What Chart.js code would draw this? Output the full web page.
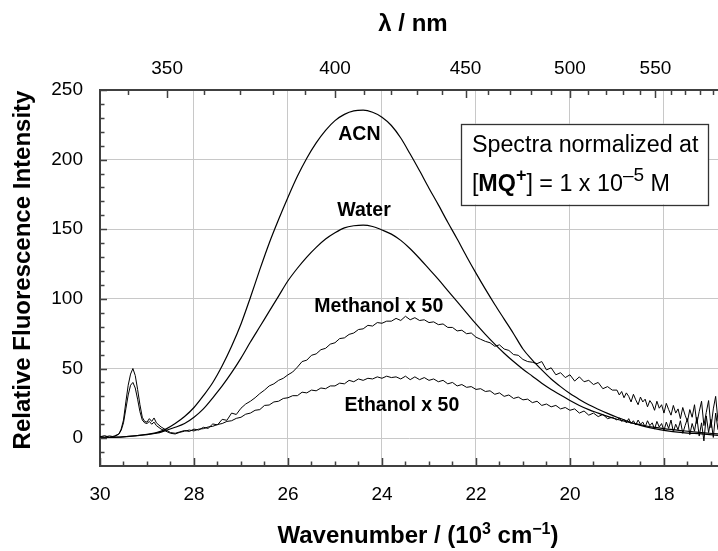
<!DOCTYPE html>
<html><head><meta charset="utf-8">
<script src="https://cdn.jsdelivr.net/npm/chart.js@4.4.1/dist/chart.umd.min.js"></script>
<style>html,body{margin:0;padding:0;background:#fff}canvas{display:block}</style>
</head><body>
<canvas id="c" width="718" height="551"></canvas>
<script>
// ---- data (wavenumber in 10^3 cm^-1) ----
const wnSmooth = [30.0,29.5,29.0,28.8,28.6,28.4,28.2,28.0,27.8,27.6,
  27.4,27.2,27.0,26.8,26.6,26.4,26.2,26.0,25.8,25.6,
  25.4,25.2,25.0,24.8,24.6,24.4,24.2,24.0,23.8,23.6,
  23.4,23.2,23.0,22.8,22.6,22.4,22.2,22.0,21.8,21.6,
  21.4,21.2,21.0,20.8,20.6,20.4,20.2,20.0,19.8,19.6,
  19.4,19.2,19.0,18.8,18.6,18.4,18.2,18.0,17.6,17.2,
  16.85];
const acn = [0.3,1.0,2.8,4.0,6.5,10.5,15.5,22,30.5,40,
  52,66,82,101,121,140,157,173,188,201,
  212,221,228,232.5,235,235.5,234,230.5,224.5,215.5,
  204,192,179.5,167.5,155,143,130.5,118.5,107,96,
  85.5,75,64,56,49,42.5,37,32,27.8,24,
  20.8,17.8,15,12.5,10.2,8.3,6.8,5.6,4,3,
  2];
const water = [0.3,0.9,2.5,3.5,5.5,7.8,10.5,15,21,29,
  37.5,47,57.5,69,80,91,102,113,122,130,
  137,143,147.5,151,152.5,153,152,149.5,146.5,142,
  136,129,121.5,114,106,98,90,82,74.5,67.5,
  61,55,49.5,44.5,39.5,35,31,27,23.5,20.5,
  18,15.6,13.6,11.8,10.2,8.9,7.8,6.8,5.3,4,
  3];
const wnNoisy = [30.0,29.9,29.8,29.7,29.6,29.55,29.5,29.45,29.4,29.35,29.3,29.25,29.2,29.15,29.1,29.05,29.0,28.95,28.9,28.85,28.8,28.7,28.6,28.5,28.4,28.3,
  28.2,28.1,28.0,27.9,27.8,27.7,27.6,27.5,27.4,27.3,
  27.2,27.1,27.0,26.9,26.8,26.7,26.6,26.5,26.4,26.3,
  26.2,26.1,26.0,25.9,25.8,25.7,25.6,25.5,25.4,25.3,
  25.2,25.1,25.0,24.9,24.8,24.7,24.6,24.5,24.4,24.3,
  24.2,24.1,24.0,23.9,23.8,23.7,23.6,23.5,23.4,23.3,
  23.2,23.1,23.0,22.9,22.8,22.7,22.6,22.5,22.4,22.3,
  22.2,22.1,22.0,21.9,21.8,21.7,21.6,21.5,21.4,21.3,
  21.2,21.1,21.0,20.9,20.8,20.7,20.6,20.5,20.4,20.3,
  20.2,20.1,20.0,19.9,19.8,19.7,19.6,19.5,19.4,19.3,
  19.2,19.1,
  19.0,18.95,18.9,18.85,18.8,18.75,18.7,18.65,18.6,18.55,
  18.5,18.45,18.4,18.35,18.3,18.25,18.2,18.15,18.1,18.05,
  18.0,17.95,17.9,17.85,17.8,17.75,17.7,17.65,17.6,17.55,
  17.5,17.45,17.4,17.35,17.3,17.25,17.2,17.15,17.1,17.05,
  17.0,16.95,16.9,16.85];
const methanol = [1.0,1.8,0.6,1.5,3.0,6.5,13,26,38,46,50,45,35,24,15,12,11.5,14,12,14.5,11,8,6,4,3.5,4.5,
  5.5,4.8,6.5,5.8,7.8,7.0,10.2,9.5,13.5,12.8,
  18.0,17.0,21.5,24.5,26.5,29.0,32.0,34.5,37.5,39.0,
  41.5,43.0,45.5,47.5,51.0,55.0,56.0,59.5,60.5,63.5,
  64.5,67.5,68.5,71.5,72.0,74.5,75.5,78.0,78.5,81.0,
  80.5,83.0,82.5,84.0,84.0,86.0,84.5,87.5,85.0,86.5,
  84.5,85.0,83.0,83.5,81.5,82.0,79.5,79.5,77.0,77.5,
  75.0,75.5,72.5,71.0,69.5,68.5,66.0,67.0,64.0,63.0,
  60.0,59.5,56.5,55.0,54.5,53.5,55.0,49.0,50.5,45.5,
  47.0,43.5,45.5,41.0,44.0,40.5,41.5,38.5,40.0,35.5,
  37.0,34.5,
  34.5,31.0,33.5,29.0,32.5,30.0,26.0,31.5,27.5,24.0,
  29.5,26.0,28.0,22.5,27.0,24.5,20.0,26.5,21.5,24.0,
  18.0,25.0,20.5,16.5,23.5,18.0,21.0,14.0,22.0,16.5,
  12.0,20.5,15.0,24.0,10.5,19.0,26.5,9.0,18.5,27.0,
  7.5,21.0,30.0,12.0];
const ethanol = [1.2,0.8,1.6,1.0,2.8,5.5,11,21,31,38,40,36,28,19,13,11,10.5,12,10,11.5,9,6.5,5,3.5,3,4.2,
  5.0,5.8,5.2,6.5,6.8,8.0,8.5,9.8,10.5,12.0,
  12.5,14.2,15.0,17.2,18.0,20.0,20.5,23.5,23.8,26.0,
  26.5,28.5,29.0,30.5,30.5,33.0,32.5,34.5,34.0,36.0,
  35.5,37.5,37.5,39.5,39.0,41.5,40.5,42.5,41.5,43.0,
  42.5,44.0,43.0,44.5,43.5,44.0,42.5,44.5,42.0,44.0,
  42.0,43.5,41.5,42.5,40.5,41.5,39.0,40.0,37.5,38.5,
  36.5,37.0,35.0,35.5,33.5,34.0,31.5,32.5,30.0,31.0,
  28.5,29.5,27.5,28.0,25.5,26.5,23.5,24.5,22.5,23.5,
  21.0,22.0,20.0,21.0,18.0,19.5,16.5,18.0,15.5,17.0,
  14.0,15.0,
  13.0,14.5,12.0,13.5,11.0,14.0,10.5,12.5,9.5,13.0,
  10.0,11.5,8.0,12.5,9.0,11.0,6.5,12.0,8.0,10.5,
  5.5,11.5,7.0,13.0,4.5,10.0,6.0,12.5,3.5,9.0,
  14.0,2.5,10.5,5.0,15.0,1.5,11.0,-2.0,16.0,4.0,
  13.5,0.5,18.0,6.0];
const wnTicks = [30,28,26,24,22,20,18];
const yTicks = [0,50,100,150,200,250];
const lambdaTicks = [350,400,450,500,550];
const seriesNames = ['ACN','Water','Methanol x 50','Ethanol x 50'];

// ---- layout / style ----
const FONT = '"Liberation Sans", Arial, Helvetica, sans-serif';
const AXIS = '#404040';
const GRID = '#c8c8c8';
const labelAnchors = [ {w:24.93, v:213.8}, {w:24.95, v:159.2}, {w:25.44, v:90.5}, {w:24.80, v:19.4} ];

function richWidth(ctx, parts){ let w=0; for(const p of parts){ ctx.font=p.font; w+=ctx.measureText(p.t).width; } return w; }
function drawRich(ctx, x, y, parts){
  for(const p of parts){ ctx.font=p.font; ctx.fillText(p.t, x, y-(p.rise||0)); x+=ctx.measureText(p.t).width; }
}

const decor = {
  id:'decor',
  afterDraw(chart){
    const {ctx, chartArea:a, scales} = chart;
    const x = scales.x, y = scales.y;
    ctx.save();
    // inner ticks
    ctx.strokeStyle = AXIS; ctx.lineWidth = 1.5;
    ctx.beginPath();
    for(let k=34;k<=60;k++){ const v=k/2; const px=Math.round(x.getPixelForValue(v))+0.5; const L=(k%4===0)?8:4.5; ctx.moveTo(px,a.bottom); ctx.lineTo(px,a.bottom-L); }
    for(let v=-10; v<=250; v+=10){ const py=Math.round(y.getPixelForValue(v))+0.5; const L=(v%50===0)?7:4.5; ctx.moveTo(a.left,py); ctx.lineTo(a.left+L,py); }
    for(let l=340; l<=590; l+=10){ const px=Math.round(x.getPixelForValue(10000/l))+0.5; const L=(l%50===0)?8:5; ctx.moveTo(px,a.top); ctx.lineTo(px,a.top+L); }
    ctx.stroke();

    ctx.fillStyle = '#000';
    ctx.textBaseline = 'alphabetic';
    ctx.textAlign = 'left';
    // series labels
    ctx.font = 'bold 19.5px '+FONT;
    seriesNames.forEach((s,i)=>{
      ctx.fillText(s, x.getPixelForValue(labelAnchors[i].w), y.getPixelForValue(labelAnchors[i].v));
    });
    // note box
    const bl = x.getPixelForValue(22.31), br = x.getPixelForValue(17.05);
    const bt = y.getPixelForValue(225.8), bb = y.getPixelForValue(167.8);
    ctx.fillStyle='#fff'; ctx.fillRect(bl,bt,br-bl,bb-bt);
    ctx.strokeStyle='#333'; ctx.lineWidth=1.3;
    ctx.strokeRect(Math.round(bl)+0.5, Math.round(bt)+0.5, Math.round(br-bl), Math.round(bb-bt));
    ctx.fillStyle='#000';
    const tx = bl+10.5;
    ctx.font = '23.3px '+FONT;
    ctx.fillText('Spectra normalized at', tx, bt+28.5);
    const R='23.3px '+FONT, B='bold 23.3px '+FONT;
    drawRich(ctx, tx, bt+67, [
      {t:'[',font:R},{t:'MQ',font:B},{t:'+',font:'bold 18px '+FONT,rise:10},{t:']',font:R},
      {t:' = 1 x 10',font:R},{t:'\u20135',font:'19px '+FONT,rise:10},{t:' M',font:R}
    ]);
    // axis titles
    ctx.font = 'bold 24px '+FONT;
    ctx.textAlign='center';
    ctx.fillText('\u03bb / nm', 413, 31);
    ctx.textAlign='left';
    const bParts = [
      {t:'Wavenumber / (10',font:'bold 24px '+FONT},{t:'3',font:'bold 16px '+FONT,rise:9},
      {t:' cm',font:'bold 24px '+FONT},{t:'\u22121',font:'bold 16px '+FONT,rise:9},{t:')',font:'bold 24px '+FONT}
    ];
    const bw = richWidth(ctx,bParts);
    drawRich(ctx, 418-bw/2, 543, bParts);
    ctx.save();
    ctx.translate(30, 270);
    ctx.rotate(-Math.PI/2);
    ctx.textAlign='center';
    ctx.font='bold 24px '+FONT;
    ctx.fillText('Relative Fluorescence Intensity', 0, 0);
    ctx.restore();
    ctx.restore();
  }
};

const mk = (xs, ys) => xs.map((w,i)=>({x:w, y:ys[i]}));

new Chart(document.getElementById('c'), {
  type:'line',
  data:{ datasets:[
    {label:seriesNames[0], data:mk(wnSmooth,acn), borderColor:'#000', borderWidth:1.2, pointRadius:0, cubicInterpolationMode:'monotone', fill:false},
    {label:seriesNames[1], data:mk(wnSmooth,water), borderColor:'#000', borderWidth:1.2, pointRadius:0, cubicInterpolationMode:'monotone', fill:false},
    {label:seriesNames[2], data:mk(wnNoisy,methanol), borderColor:'#000', borderWidth:1, pointRadius:0, tension:0, fill:false},
    {label:seriesNames[3], data:mk(wnNoisy,ethanol), borderColor:'#000', borderWidth:1, pointRadius:0, tension:0, fill:false}
  ]},
  options:{
    responsive:false, animation:false, events:[],
    layout:{padding:0},
    plugins:{legend:{display:false}, tooltip:{enabled:false}},
    scales:{
      x:{ type:'linear', position:'bottom', min:16.85, max:30, reverse:true,
          afterBuildTicks:s=>{ s.ticks = wnTicks.map(v=>({value:v})); },
          afterFit:s=>{ s.height = 85; },
          grid:{ drawTicks:false, lineWidth:1, color:c=> (c.tick && c.tick.value===30) ? 'rgba(0,0,0,0)' : GRID },
          border:{ color:AXIS, width:2 },
          ticks:{ color:'#000', padding:17, maxRotation:0, font:{family:FONT, size:19} } },
      xTop:{ type:'linear', position:'top', min:16.85, max:30, reverse:true,
          afterBuildTicks:s=>{ s.ticks = lambdaTicks.map(l=>({value:10000/l})); },
          afterFit:s=>{ s.height = 90; },
          grid:{ drawTicks:false, color:'rgba(0,0,0,0)' },
          border:{ color:AXIS, width:2 },
          ticks:{ color:'#000', padding:10, maxRotation:0, font:{family:FONT, size:19}, callback:v=>String(Math.round(10000/v)) } },
      y:{ type:'linear', min:-20, max:250,
          afterBuildTicks:s=>{ s.ticks = yTicks.map(v=>({value:v})); },
          afterFit:s=>{ s.width = 100; },
          grid:{ drawTicks:false, lineWidth:1, color:c=> (c.tick && c.tick.value===250) ? 'rgba(0,0,0,0)' : GRID },
          border:{ color:AXIS, width:2 },
          ticks:{ color:'#000', padding:17, font:{family:FONT, size:19} } }
    }
  },
  plugins:[decor]
});
</script>
</body></html>
